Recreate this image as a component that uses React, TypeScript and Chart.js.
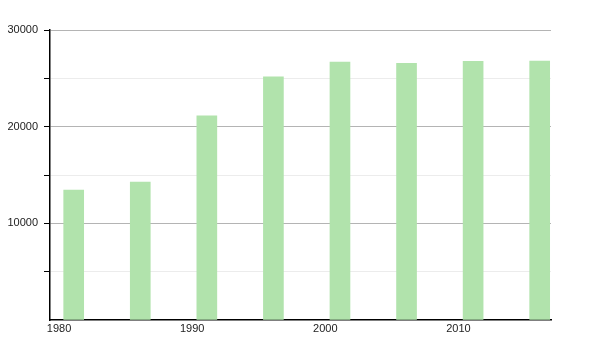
import React, { useEffect, useRef } from "react";
import { Chart, registerables } from "chart.js";

Chart.register(...registerables);

const years = [1981, 1986, 1991, 1996, 2001, 2006, 2011, 2016];
const population = [13450, 14280, 21130, 25150, 26690, 26550, 26760, 26790];
const xTickYears = [1980, 1990, 2000, 2010];
const yLabelValues = [10000, 20000, 30000];

export default function App() {
  const ref = useRef<HTMLCanvasElement | null>(null);

  useEffect(() => {
    document.body.style.margin = "0";
    const canvas = ref.current;
    if (!canvas) return;
    const chart = new Chart(canvas, {
      type: "bar",
      data: {
        datasets: [
          {
            data: years.map((y, i) => ({ x: y + 0.1, y: population[i] })),
            backgroundColor: "#b1e3ac",
            borderWidth: 0,
            barThickness: 20,
          },
        ],
      },
      options: {
        animation: false,
        responsive: false,
        maintainAspectRatio: false,
        plugins: { legend: { display: false }, tooltip: { enabled: false } },
        layout: { padding: { top: 30, right: 49, left: 0, bottom: 0 } },
        scales: {
          x: {
            type: "linear",
            offset: false,
            min: 1979.32,
            max: 2016.95,
            afterFit: (s: any) => {
              s.height = 30;
            },
            afterBuildTicks: (s: any) => {
              s.ticks = xTickYears.map((v) => ({ value: v }));
            },
            ticks: {
              color: "#222",
              font: { family: "Liberation Sans", size: 11 },
              padding: 2,
              maxRotation: 0,
              autoSkip: false,
              callback: (v: any) => String(v),
            },
            grid: { display: false, drawTicks: false, offset: false },
            border: { display: true, color: "#000", width: 1.5 },
          },
          y: {
            min: 0,
            max: 30000,
            afterFit: (s: any) => {
              s.width = 50;
            },
            ticks: {
              stepSize: 5000,
              color: "#222",
              font: { family: "Liberation Sans", size: 11 },
              padding: 6,
              callback: (v: any) => (yLabelValues.includes(Number(v)) ? String(v) : ""),
            },
            grid: {
              color: (ctx: any) => {
                const v = ctx.tick ? ctx.tick.value : 0;
                if (v === 0) return "rgba(0,0,0,0)";
                return v % 10000 === 0 ? "#b4b4b4" : "#ececec";
              },
              tickColor: (ctx: any) => {
                const v = ctx.tick ? ctx.tick.value : 0;
                return v === 0 ? "rgba(0,0,0,0)" : "#000";
              },
              tickLength: 6,
              lineWidth: 1,
            },
            border: { display: true, color: "#000", width: 1.5 },
          },
        },
      },
    });
    return () => chart.destroy();
  }, []);

  return (
    <div style={{ width: 600, height: 350 }}>
      <canvas ref={ref} width={600} height={350} style={{ width: 600, height: 350, display: "block" }} />
    </div>
  );
}
